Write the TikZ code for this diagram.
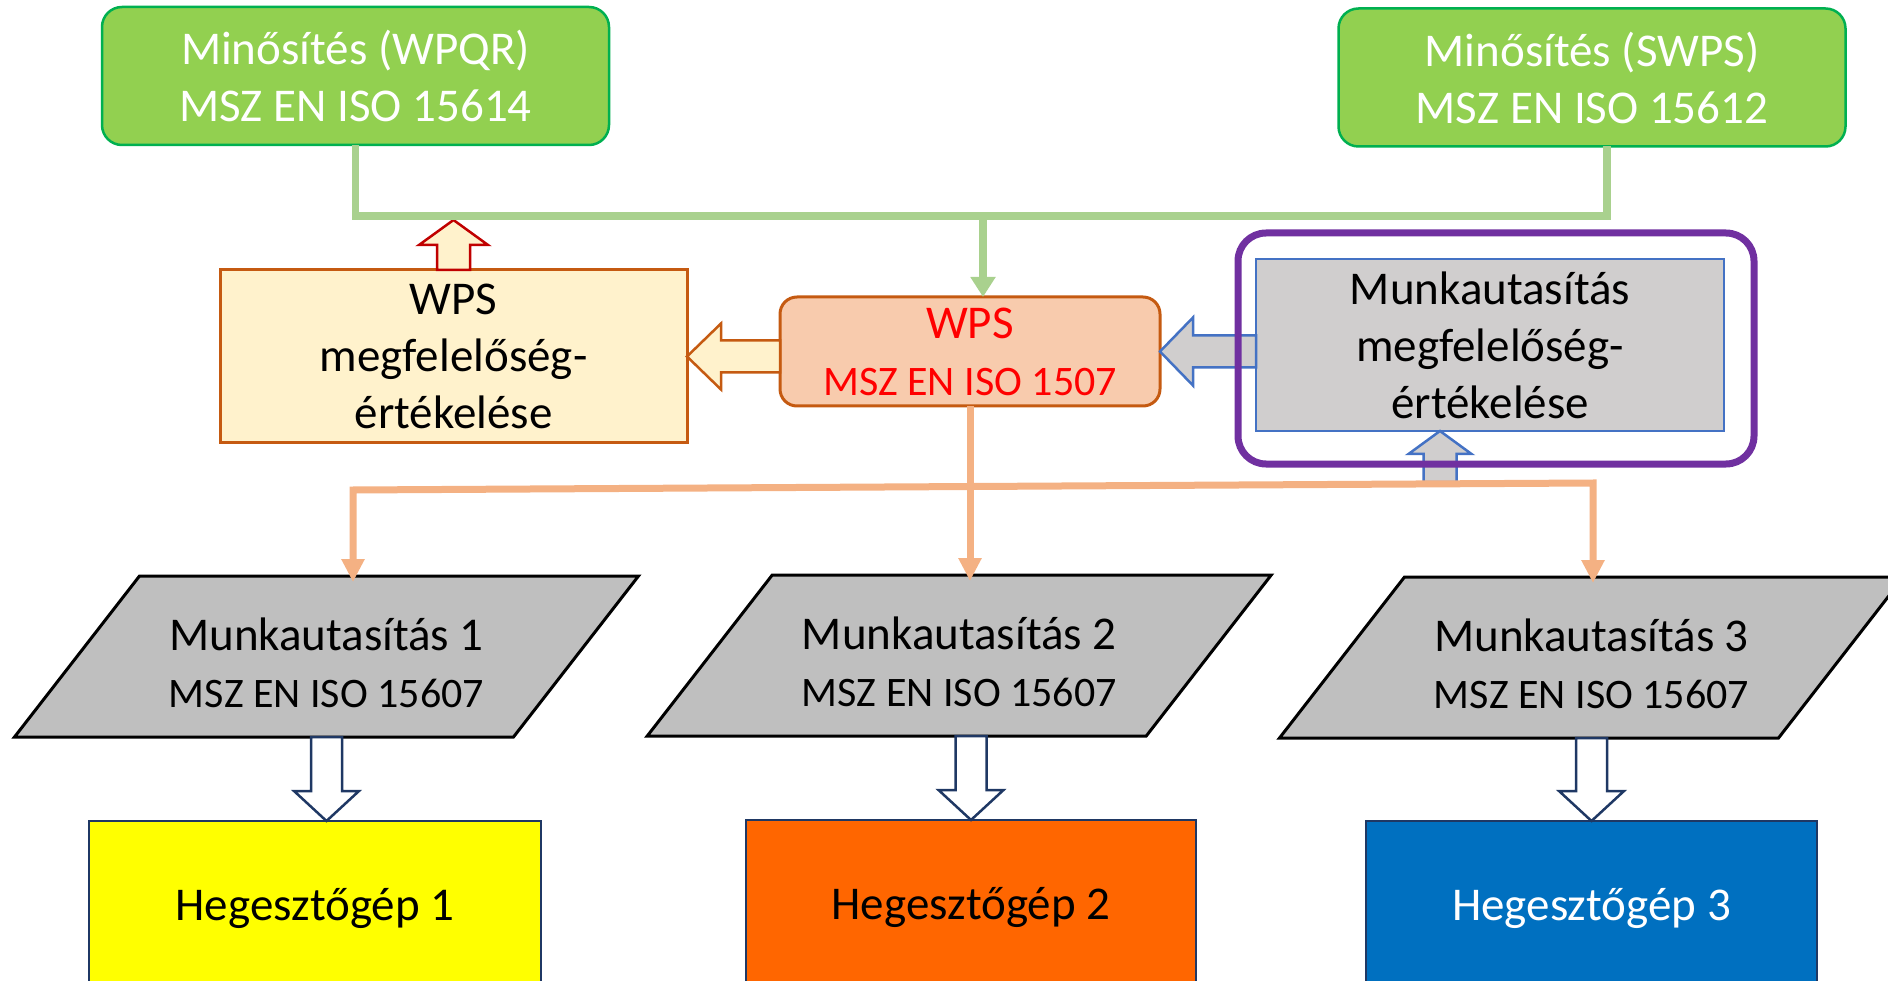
\documentclass[tikz,border=0pt]{standalone}
\usepackage{fontspec}
\setmainfont{Carlito}
\usetikzlibrary{arrows.meta,calc,backgrounds}
\definecolor{GRNFILL}{HTML}{92D050}
\definecolor{GRNLINE}{HTML}{00B050}
\definecolor{GRNCONN}{HTML}{A9D18E}
\definecolor{WPSFILL}{HTML}{F8CBAD}
\definecolor{WPSLINE}{HTML}{C55A11}
\definecolor{WPSTEXT}{HTML}{FF0000}
\definecolor{EVALFILL}{HTML}{FFF2CC}
\definecolor{EVALUP}{HTML}{C00000}
\definecolor{MUFILL}{HTML}{D0CECE}
\definecolor{MULINE}{HTML}{4472C4}
\definecolor{FRAMELINE}{HTML}{7030A0}
\definecolor{ORANGECONN}{HTML}{F4B183}
\definecolor{PARAFILL}{HTML}{BFBFBF}
\definecolor{NAVY}{HTML}{1F3864}
\definecolor{GEPONE}{HTML}{FFFF00}
\definecolor{GEPTWO}{HTML}{FF6600}
\definecolor{GEPTHREE}{HTML}{0070C0}
\newcommand{\fsBig}{\fontsize{47}{57}\selectfont}
\newcommand{\fsSmall}{\fontsize{42}{50}\selectfont}
\tikzset{
BOX/.style={align=center,font=\fsBig,inner sep=0pt,outer sep=0pt},
GREENBOX/.style={BOX,draw=GRNLINE,fill=GRNFILL,text=white,line width=2.5pt,rounded corners=20pt,minimum width=507pt,minimum height=138pt},
WPSBOX/.style={BOX,draw=WPSLINE,fill=WPSFILL,text=WPSTEXT,line width=3pt,rounded corners=17pt,minimum width=380pt,minimum height=109pt},
EVALBOX/.style={BOX,draw=WPSLINE,fill=EVALFILL,line width=3pt,minimum width=467pt,minimum height=173pt},
GRAYBOX/.style={BOX,draw=MULINE,fill=MUFILL,line width=2.5pt,minimum width=468pt,minimum height=172pt},
FRAMEBOX/.style={BOX,draw=FRAMELINE,line width=7pt,rounded corners=28pt,minimum width=516pt,minimum height=231pt},
PARA/.style={BOX,minimum width=499pt,minimum height=161pt},
PARASHAPE/.style={draw=black,fill=PARAFILL,line width=3pt,line join=miter},
GEPBOX/.style={BOX,draw=NAVY,line width=2.5pt,minimum width=451pt,minimum height=174pt},
GREENLINE/.style={draw=GRNCONN,line width=7.5pt,line join=miter},
ORANGELINE/.style={draw=ORANGECONN,line width=7pt,line join=miter},
CREAMARROW/.style={draw=WPSLINE,fill=EVALFILL,line width=2.5pt,line join=miter},
CREAMUP/.style={draw=EVALUP,fill=EVALFILL,line width=2.5pt,line join=miter},
BLUEARROW/.style={draw=MULINE,fill=MUFILL,line width=2.5pt,line join=miter},
DOWNARROW/.style={draw=NAVY,fill=white,line width=2.5pt,line join=miter},
BLOCKARROW/.style args={#1/#2/#3}{to path={
	($(\tikztotarget)!#3!(\tikztostart)$) coordinate (ba)
	($(\tikztostart)!#1!90:(\tikztotarget)$) -- ($(ba)!#1!90:(\tikztotarget)$)
	-- ($(ba)!#2!90:(\tikztotarget)$) -- (\tikztotarget)
	-- ($(ba)!#2!-90:(\tikztotarget)$) -- ($(ba)!#1!-90:(\tikztotarget)$)
	-- ($(\tikztostart)!#1!-90:(\tikztotarget)$) -- cycle}},
}
\begin{document}
\begin{tikzpicture}[x=1pt,y=-1pt]
	\useasboundingbox (0,0) rectangle (1888,981);
	\clip (0,0) rectangle (1888,981);
	%Qualifications
	\node[GREENBOX] (wpqr) at (355.5,76) {Minősítés (WPQR)\\MSZ EN ISO 15614};
	\node[GREENBOX] (swps) at (1592,77.5) {Minősítés (SWPS)\\MSZ EN ISO 15612};
	%WPS and evaluations
	\node[WPSBOX] (wps) at (970,351.5) {WPS\\{\fsSmall MSZ EN ISO 1507}};
	\node[EVALBOX] (wpseval) at (453.5,356.5) {WPS\\megfelelőség-\\értékelése};
	\node[GRAYBOX] (mueval) at (1490,345) {Munkautasítás\\megfelelőség-\\értékelése};
	%Work instructions (text sits 6pt below the middle of the shape)
	\node[PARA] (m1) at (326.5,662.5) {Munkautasítás 1\\{\fsSmall MSZ EN ISO 15607}};
	\node[PARA] (m2) at (959.25,661.5) {Munkautasítás 2\\{\fsSmall MSZ EN ISO 15607}};
	\node[PARA] (m3) at (1591.5,663.5) {Munkautasítás 3\\{\fsSmall MSZ EN ISO 15607}};
	\begin{pgfonlayer}{background}
		\foreach \m in {m1,m2,m3}
			\path[PARASHAPE] ([xshift=62.5pt,yshift=6pt]\m.north west) -- ([xshift=62.5pt,yshift=6pt]\m.north east)
				-- ([xshift=-62.5pt,yshift=6pt]\m.south east) -- ([xshift=-62.5pt,yshift=6pt]\m.south west) -- cycle;
	\end{pgfonlayer}
	%Welding machines
	\node[GEPBOX,fill=GEPONE,minimum width=452pt] (gep1) at (315,908) {Hegesztőgép 1};
	\node[GEPBOX,fill=GEPTWO,minimum width=450pt] (gep2) at (971,907) {Hegesztőgép 2};
	\node[GEPBOX,fill=GEPTHREE,text=white] (gep3) at (1591.5,908) {Hegesztőgép 3};
	%Block arrows
	\coordinate (evaltip) at (453.5,220);
	\coordinate (upb) at (1440,482);
	\path[CREAMUP,BLOCKARROW=16.5pt/34.5pt/25pt] (wpseval.north) to (evaltip);
	\path[CREAMARROW,BLOCKARROW=16pt/33pt/34pt] (wps.west |- wpseval.east) to (wpseval.east);
	\path[BLUEARROW,BLOCKARROW=16pt/34pt/33pt] (mueval.west |- wps.east) to (wps.east);
	\path[BLUEARROW,BLOCKARROW=16.5pt/31.5pt/23pt] (upb) to (upb |- mueval.south);
	\path[DOWNARROW,BLOCKARROW=15.5pt/32.5pt/30pt] ([yshift=6pt]m1.south) to (m1.south |- gep1.north);
	\path[DOWNARROW,BLOCKARROW=15.5pt/32.5pt/30pt] ([yshift=6pt]gep2.north |- m2.south) to (gep2.north);
	\path[DOWNARROW,BLOCKARROW=15.5pt/32.5pt/30pt] ([yshift=6pt]m3.south) to (m3.south |- gep3.north);
	\node[FRAMEBOX] (muframe) at (1496,348.5) {};
	%Green connectors
	\coordinate (gbus) at (983,216);
	\coordinate (gR) at (1607,216);
	\path[GREENLINE] (wpqr.south) |- (gR) -- (gR |- swps.south);
	\path[GREENLINE,-{Triangle[width=24pt,length=20pt]}] (gbus) -- (gbus |- wps.north);
	%Orange connectors
	\coordinate (oL) at (353,490);
	\coordinate (oR) at (1593,483);
	\path[ORANGELINE,{Triangle[width=22pt,length=23pt]}-{Triangle[width=22pt,length=23pt]}]
		(oL |- m1.north) -- (oL) -- (oR) -- (oR |- m3.north);
	\path[ORANGELINE,-{Triangle[width=22pt,length=23pt]}] (wps.south) -- (wps.south |- m2.north);
\end{tikzpicture}
\end{document}
